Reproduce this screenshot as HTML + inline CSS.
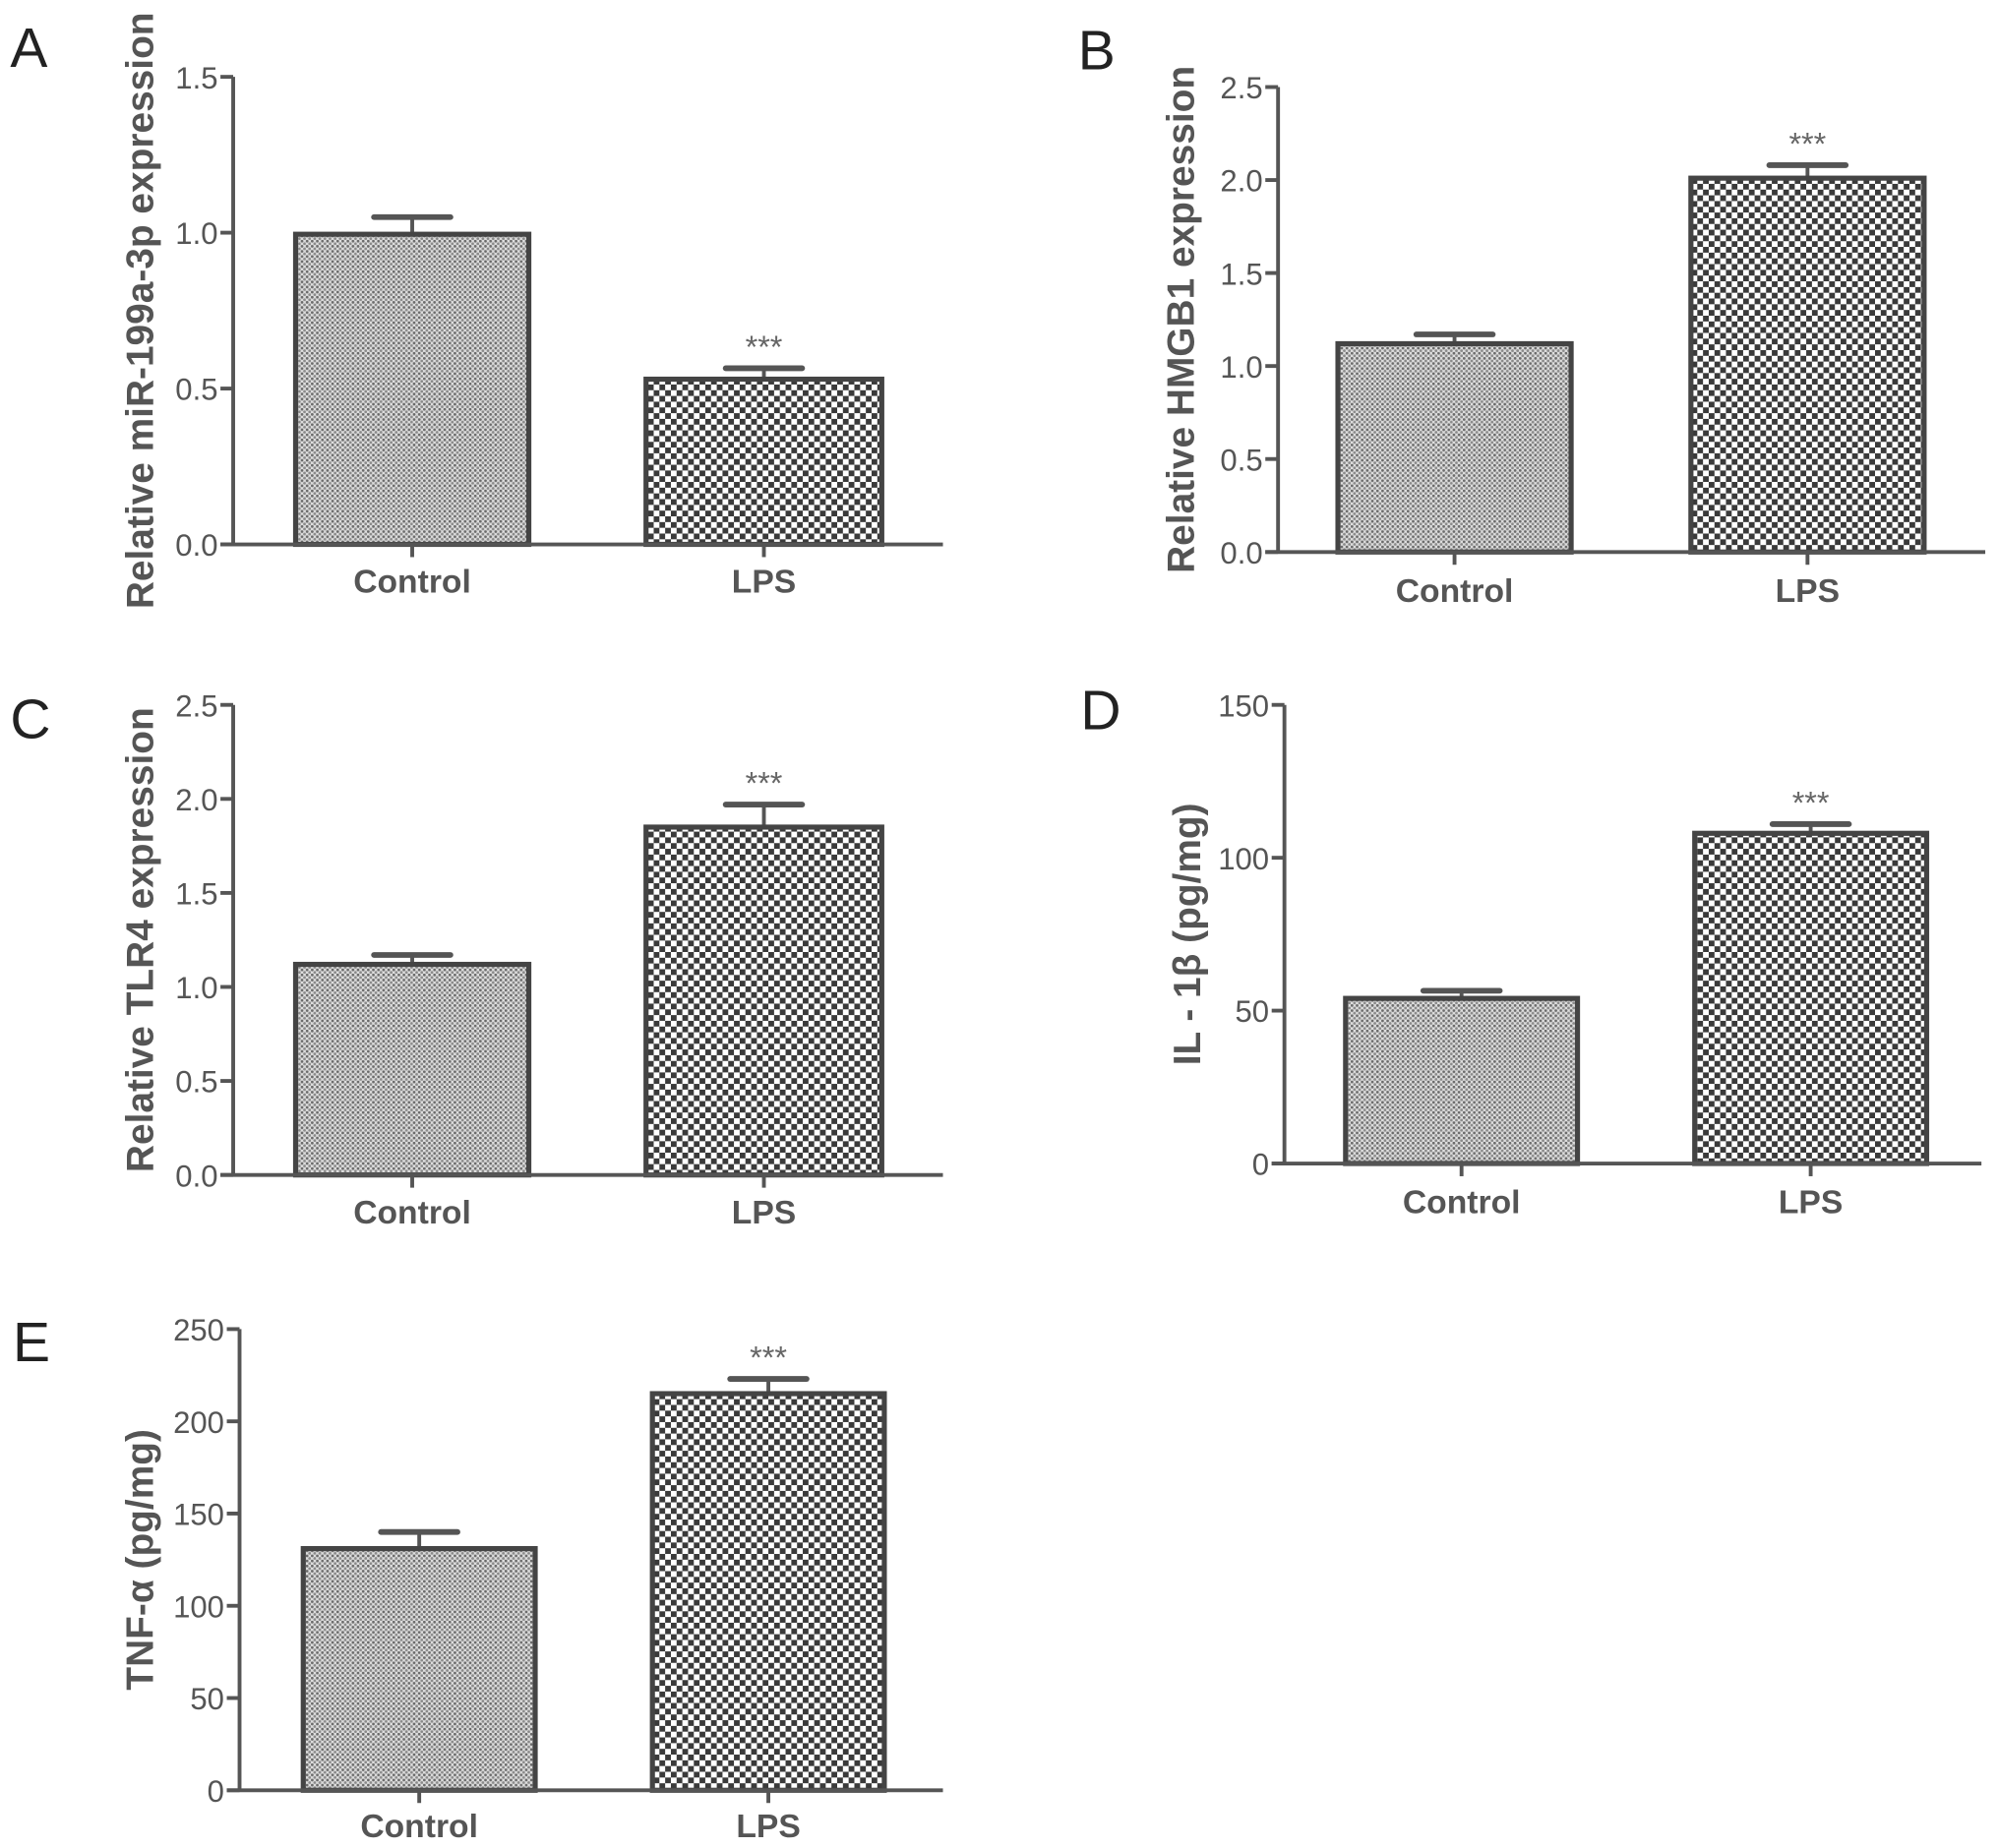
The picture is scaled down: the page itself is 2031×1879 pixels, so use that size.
<!DOCTYPE html>
<html><head><meta charset="utf-8"><style>
html,body{margin:0;padding:0;background:#fff;}
svg{display:block;}
text{font-family:"Liberation Sans",sans-serif;}
</style></head><body>
<svg id="fig" width="2031" height="1879" viewBox="0 0 1568 1450" xmlns="http://www.w3.org/2000/svg">
<defs>
<pattern id="dots" patternUnits="userSpaceOnUse" width="4" height="4">
<rect width="4" height="4" fill="#dedede"/><circle cx="1" cy="1" r="1.1" fill="#6a6a6a"/><circle cx="3" cy="3" r="1.1" fill="#8a8a8a"/>
</pattern>
<pattern id="checks" patternUnits="userSpaceOnUse" width="9" height="9">
<rect width="9" height="9" fill="#fff"/><rect width="4.5" height="4.5" fill="#3a3a3a"/><rect x="4.5" y="4.5" width="4.5" height="4.5" fill="#3a3a3a"/>
</pattern>
</defs>
</svg>
<script>
const categories = ["Control", "LPS"];
const valuesA = [0.995, 0.53];
const errorsA = [0.055, 0.035];
const ticksA = ["0.0", "0.5", "1.0", "1.5"];
const valuesB = [1.12, 2.01];
const errorsB = [0.05, 0.07];
const ticksB = ["0.0", "0.5", "1.0", "1.5", "2.0", "2.5"];
const valuesC = [1.12, 1.85];
const errorsC = [0.05, 0.12];
const ticksC = ["0.0", "0.5", "1.0", "1.5", "2.0", "2.5"];
const valuesD = [54, 108];
const errorsD = [2.5, 3];
const ticksD = ["0", "50", "100", "150"];
const valuesE = [131, 215];
const errorsE = [9, 8];
const ticksE = ["0", "50", "100", "150", "200", "250"];
const sig = ["", "***"];

const NS = "http://www.w3.org/2000/svg";
const svg = document.getElementById("fig");
function mk(tag, attrs, parent, txt) {
  const e = document.createElementNS(NS, tag);
  for (const k in attrs) e.setAttribute(k, attrs[k]);
  if (txt !== undefined) e.textContent = txt;
  (parent || svg).appendChild(e);
  return e;
}
const panels = [
  {id:"a", letter:"A", lx:8, ly:52, ax:183, y0:427, ytop:60, xend:740, bars:[[232,415],[507,692]], catY:463, titleX:120, title:"Relative miR-199a-3p expression", vals:valuesA, errs:errorsA, ticks:ticksA, max:1.5},
  {id:"b", letter:"B", lx:846, ly:54, ax:1003, y0:433, ytop:68, xend:1558, bars:[[1050,1233],[1327,1510]], catY:470, titleX:937, title:"Relative HMGB1 expression", vals:valuesB, errs:errorsB, ticks:ticksB, max:2.5},
  {id:"c", letter:"C", lx:8, ly:579, ax:183, y0:922, ytop:553, xend:740, bars:[[232,415],[507,692]], catY:958, titleX:120, title:"Relative TLR4 expression", vals:valuesC, errs:errorsC, ticks:ticksC, max:2.5},
  {id:"d", letter:"D", lx:848, ly:572, ax:1008, y0:913, ytop:553, xend:1555, bars:[[1056,1238],[1330,1512]], catY:950, titleX:942, title:"IL - 1β (pg/mg)", vals:valuesD, errs:errorsD, ticks:ticksD, max:150},
  {id:"e", letter:"E", lx:10, ly:1068, ax:188, y0:1405, ytop:1043, xend:740, bars:[[238,420],[512,694]], catY:1440, titleX:120, title:"TNF-α (pg/mg)", vals:valuesE, errs:errorsE, ticks:ticksE, max:250}
];
const col = "#555";
panels.forEach(p => {
  const g = mk("g", {});
  
  
  const yScale = v => p.y0 - (v / p.max) * (p.y0 - p.ytop);
  const lt = mk("text", {x:p.lx, y:p.ly, "font-size":44, fill:"#222"}, g, p.letter);
  
  
  const cy = (p.y0 + p.ytop)/2;
  const yt = mk("text", {x:p.titleX, y:cy, "font-size":30, "font-weight":"bold", fill:col, "text-anchor":"middle", transform:`rotate(-90 ${p.titleX} ${cy})`}, g, p.title);
  
  
  p.vals.forEach((v, i) => {
    const [x1, x2] = p.bars[i];
    const cx = (x1 + x2) / 2;
    const top = yScale(v);
    const et = yScale(v + p.errs[i]);
    const eb = mk("line", {x1:cx, x2:cx, y1:top, y2:et, stroke:col, "stroke-width":3}, g);
    
    
    const ec = mk("line", {x1:cx - 30, x2:cx + 30, y1:et, y2:et, stroke:col, "stroke-width":4.5, "stroke-linecap":"round"}, g);
    
    
    const r = mk("rect", {x:x1, y:top, width:x2 - x1, height:p.y0 - top, fill:i === 0 ? "url(#dots)" : "url(#checks)", stroke:"#444", "stroke-width":4}, g);
    
    
    if (sig[i]) {
      const s = mk("text", {x:cx, y:et - 8, "font-size":25, fill:"#666", "text-anchor":"middle"}, g, sig[i]);
      
      
    }
    const tk = mk("line", {x1:cx, x2:cx, y1:p.y0, y2:p.y0 + 10, stroke:col, "stroke-width":3}, g);
    
    
    const cl = mk("text", {x:cx, y:p.catY + 2, "font-size":26, "font-weight":"bold", fill:col, "text-anchor":"middle"}, g, categories[i]);
    
    
  });
  const ya = mk("line", {x1:p.ax, x2:p.ax, y1:p.ytop, y2:p.y0, stroke:col, "stroke-width":3}, g);
  
  
  const xa = mk("line", {x1:p.ax - 10, x2:p.xend, y1:p.y0, y2:p.y0, stroke:col, "stroke-width":3}, g);
  
  
  p.ticks.forEach((t, k) => {
    const y = yScale(p.max * k / (p.ticks.length - 1));
    const tl = mk("line", {x1:p.ax - 10, x2:p.ax, y1:y, y2:y, stroke:col, "stroke-width":3}, g);
    
    
    const tx = mk("text", {x:p.ax - 12, y:y + 9, "font-size":24, fill:col, "text-anchor":"end"}, g, t);
    
    
  });
});
</script>
</body></html>
